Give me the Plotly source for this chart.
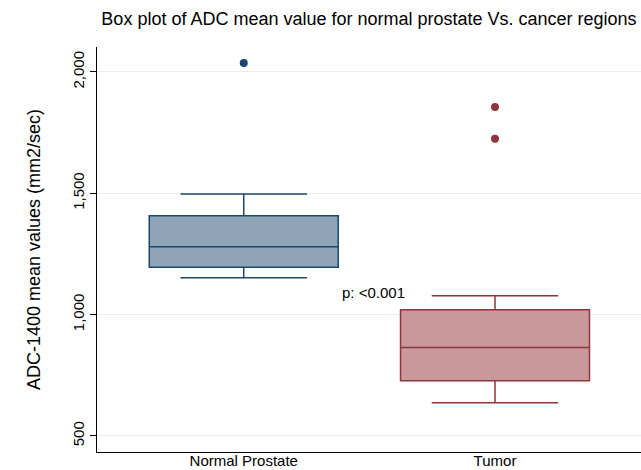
import plotly.graph_objects as go

categories = ["Normal Prostate", "Tumor"]
q1 = [1195, 728]
median = [1280, 865]
q3 = [1408, 1020]
lower_whisker = [1152, 637]
upper_whisker = [1497, 1078]
outliers = [[2037], [1856, 1725]]
fill_colors = ["#90a4b8", "#c8989b"]
line_colors = ["#1a476f", "#90353b"]
y_ticks = [500, 1000, 1500, 2000]
p_text = "p: <0.001"

fig = go.Figure()
for i, cat in enumerate(categories):
    fig.add_trace(go.Box(
        x=[i], q1=[q1[i]], median=[median[i]], q3=[q3[i]],
        lowerfence=[lower_whisker[i]], upperfence=[upper_whisker[i]],
        width=0.752, whiskerwidth=0.67,
        fillcolor=fill_colors[i], line=dict(color=line_colors[i], width=1.5),
        boxpoints=False, showlegend=False, name=cat, hoverinfo="skip",
    ))
    fig.add_trace(go.Scatter(
        x=[i] * len(outliers[i]), y=outliers[i], mode="markers",
        marker=dict(color=line_colors[i], size=8), showlegend=False,
    ))

fig.add_annotation(x=0.383, y=1093, text=p_text, showarrow=False,
                   xanchor="left", yanchor="middle",
                   font=dict(size=15, color="#000000", family="Liberation Sans, Arial"))

fig.update_layout(
    width=641, height=470,
    margin=dict(l=97, r=0, t=47, b=18),
    paper_bgcolor="white", plot_bgcolor="white",
    font=dict(family="Liberation Sans, Arial", color="#000000"),
    title=dict(text="Box plot of ADC mean value for normal prostate Vs. cancer regions",
               x=(97 + 641) / 2 / 641, xanchor="center", y=1 - 19 / 470, yanchor="middle",
               font=dict(size=18, color="#000000")),
    xaxis=dict(range=[-0.584, 1.581], tickvals=[0, 1], ticktext=categories,
               showgrid=False, zeroline=False, showline=True, linecolor="#000000",
               linewidth=1, ticks="", tickfont=dict(size=15), ticklen=0,
               ticklabelstandoff=-5, automargin=False),
    yaxis=dict(range=[434, 2103], tickvals=y_ticks, tickformat=",d",
               tickangle=-90, showgrid=True, gridcolor="#e8eef0", gridwidth=1,
               zeroline=False, showline=True, linecolor="#000000", linewidth=1,
               ticks="outside", ticklen=6, tickcolor="#000000",
               tickfont=dict(size=15), automargin=False,
               title=dict(text="ADC-1400 mean values (mm2/sec)", font=dict(size=18), standoff=24)),
)

fig.write_html("out.html")
